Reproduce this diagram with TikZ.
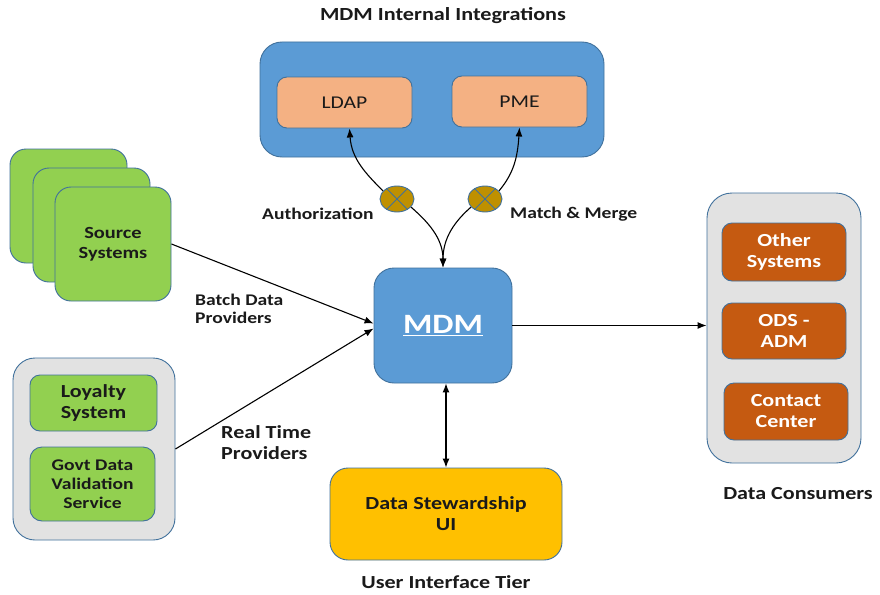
\documentclass[tikz,border=0pt]{standalone}
\usepackage{fontspec}
\setmainfont{Carlito}[FakeStretch=1.2]
\usetikzlibrary{arrows.meta,shapes.geometric,calc}
\definecolor{mblue}{HTML}{5B9BD5}
\definecolor{mborder}{HTML}{41719C}
\definecolor{peach}{HTML}{F4B183}
\definecolor{lgreen}{HTML}{92D050}
\definecolor{lgray}{HTML}{E2E2E2}
\definecolor{rust}{HTML}{C55A11}
\definecolor{gold}{HTML}{FFC000}
\definecolor{olive}{HTML}{BF9000}
\definecolor{txt}{HTML}{1A1A1A}
\tikzset{
  bx/.style={draw=mborder, line width=0.9pt, inner sep=0pt, align=center, text=txt},
  wh/.style 2 args={minimum width=#1pt, minimum height=#2pt},
  rc/.style={rounded corners=#1pt},
  fA/.style={font=\fontsize{18.4}{21}\selectfont\bfseries},
  fB/.style={font=\fontsize{16.3}{18.5}\selectfont\bfseries},
  fR/.style={font=\fontsize{18}{21}\selectfont},
  lbl/.style={align=left, inner sep=0pt, text=txt},
  tip/.style={-{Latex[length=9pt,width=7pt]}},
  conn/.style={line width=1.1pt, tip},
  junc/.style={ellipse, draw=mborder, line width=0.9pt, fill=olive, minimum width=34pt, minimum height=26pt, inner sep=0pt},
  cross/.style={draw=mborder, line width=0.9pt},
}
\begin{document}
\begin{tikzpicture}[x=1pt,y=-1pt]
\path[use as bounding box, fill=white] (0,0) rectangle (880,594);

% internal integrations
\node[lbl, font=\fontsize{18.5}{21}\selectfont\bfseries] (ttl) at (443,16) {MDM Internal Integrations};
\node[bx, fill=mblue, wh={344}{115}, rc=22] (integ) at (432,99.5) {};
\node[bx, fill=peach, wh={135}{51}, rc=10, fR] (ldap) at (344.5,102.5) {LDAP};
\node[bx, fill=peach, wh={135}{51}, rc=10, fR] (pme) at (519.5,101.5) {PME};

% junctions
\node[junc] (ell1) at (397,199) {};
\node[junc] (ell2) at (485,199) {};
\draw[cross] (ell1.45) -- (ell1.225) (ell1.135) -- (ell1.315);
\draw[cross] (ell2.45) -- (ell2.225) (ell2.135) -- (ell2.315);

% MDM
\node[bx, fill=mblue, wh={138}{115}, rc=20, text=white, font=\fontsize{28}{30}\selectfont\bfseries] (mdm) at (443,325.5) {\underline{MDM}};

% source systems
\node[bx, fill=lgreen, wh={117}{114}, rc=16] (src3) at (68.5,206) {};
\node[bx, fill=lgreen, wh={117}{114}, rc=16] (src2) at (91.5,225) {};
\node[bx, fill=lgreen, wh={116}{114}, rc=16, font=\fontsize{17}{20}\selectfont\bfseries] (src) at (113,244) {Source\\Systems};

% real time providers
\node[bx, fill=lgray, wh={162}{182}, rc=22] (prov) at (94,449) {};
\node[bx, fill=lgreen, wh={127}{56}, rc=10, fA] (loyal) at (93.5,403) {Loyalty\\System};
\node[bx, fill=lgreen, wh={125}{74}, rc=12, font=\fontsize{16.3}{19}\selectfont\bfseries] (govt) at (92.5,484) {Govt Data\\Validation\\Service};

% consumers
\node[bx, fill=lgray, wh={154}{270}, rc=25] (cons) at (784,328) {};
\node[bx, fill=rust, wh={124}{58}, rc=10, fA, text=white] (other) at (784,252) {Other\\Systems};
\node[bx, fill=rust, wh={124}{56}, rc=10, fA, text=white] (ods) at (784,331) {ODS -\\ADM};
\node[bx, fill=rust, wh={124}{57}, rc=10, fA, text=white] (contact) at (786,411.5) {Contact\\Center};
\node[lbl, fA] (dcons) at (798,494) {Data Consumers};

% UI
\node[bx, fill=gold, wh={232}{92}, rc=18, fA] (ui) at (446,514) {Data Stewardship\\UI};
\node[lbl, fA] (uit) at (446,582) {User Interface Tier};

% labels
\node[lbl, fB, anchor=west] (auth) at (262,214) {Authorization};
\node[lbl, fB, anchor=west] (mm) at (510,214) {Match \& Merge};
\node[lbl, fB, anchor=west] (batch) at (195,309) {Batch Data\\Providers};
\node[lbl, fA, anchor=west] (rt) at (221,443) {Real Time\\Providers};

% connectors
\draw[conn] (ell1.150) .. controls +(-18,-18) and +(2,30) .. ([xshift=5pt]ldap.south);
\draw[conn] (ell2.30) .. controls +(15,-18) and +(-2,30) .. (pme.south);
\draw[conn] (ell1.-30) .. controls +(16,14) and +(0,-30) .. (mdm.north);
\draw[conn] (ell2.210) .. controls +(-16,14) and +(0,-30) .. (mdm.north);
\draw[conn] (src.east) -- ([yshift=2pt]mdm.west);
\draw[conn] (prov.east) -- ([yshift=-3pt]mdm.west);
\draw[conn] (mdm.east) -- (mdm.east -| cons.west);
\draw[line width=1.1pt, {Latex[length=9pt,width=7pt]}-{Latex[length=9pt,width=7pt]}] (mdm.south -| ui.north) -- (ui.north);
\end{tikzpicture}
\end{document}
